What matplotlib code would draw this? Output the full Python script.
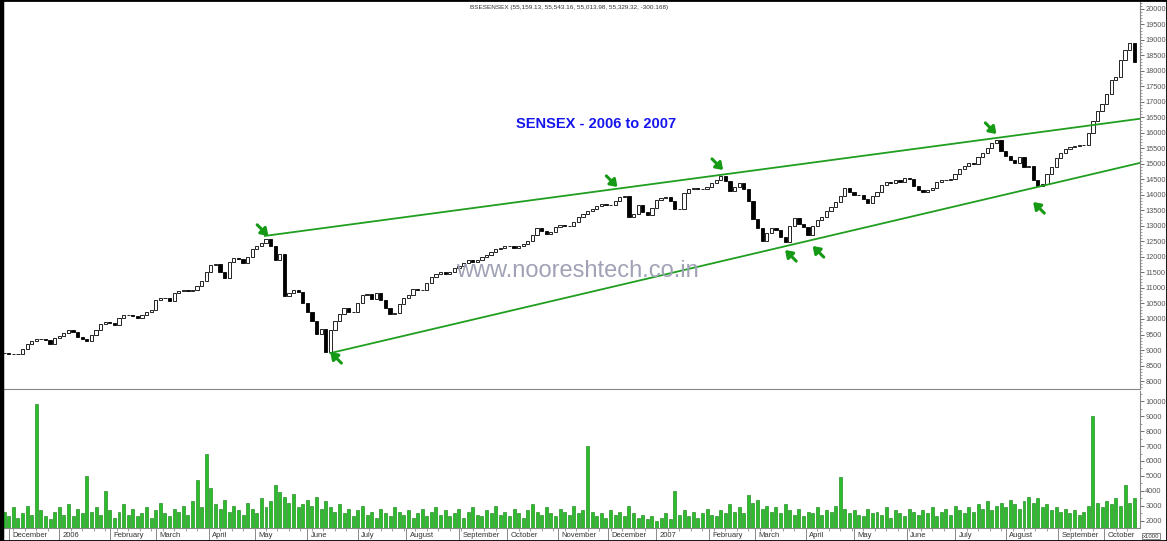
import numpy as np
import pandas as pd
import matplotlib
matplotlib.use('Agg')
import matplotlib.pyplot as plt
from matplotlib.patches import Rectangle
from matplotlib.ticker import MultipleLocator
import matplotlib.transforms as mtransforms

plt.rcParams['font.family'] = ['Liberation Sans', 'DejaVu Sans']

# one candle = two trading days, 29 Nov 2005 .. 18 Oct 2007
closes = [
    8900, 8880, 8870, 8880, 9040, 9200, 9290, 9340, 9370, 9330,
    9200, 9400, 9460, 9540, 9640, 9580, 9430, 9350, 9280, 9490,
    9650, 9850, 9890, 9880, 9820, 10040, 10120, 10130, 10100, 10040,
    10140, 10230, 10300, 10600, 10670, 10690, 10580, 10840, 10890, 10930,
    10900, 10920, 11070, 11240, 11500, 11740, 11780, 11500, 11330, 11850,
    11980, 11950, 11820, 12000, 12260, 12360, 12460, 12570, 12350, 11900,
    12100, 10750, 10850, 10940, 10860, 10520, 10220, 9950, 9530, 9680,
    8935, 9630, 9950, 10150, 10340, 10220, 10230, 10530, 10770, 10800,
    10660, 10840, 10600, 10360, 10170, 10200, 10480, 10690, 10770, 10980,
    10920, 10940, 11150, 11340, 11450, 11520, 11450, 11510, 11660, 11720,
    11810, 11890, 11850, 11910, 11990, 12050, 12160, 12250, 12290, 12350,
    12360, 12300, 12360, 12420, 12500, 12720, 12920, 12830, 12750, 12820,
    12960, 13020, 12990, 13010, 13140, 13290, 13400, 13480, 13560, 13660,
    13720, 13670, 13680, 13800, 13950, 13960, 13300, 13400, 13670, 13450,
    13360, 13580, 13850, 13890, 13930, 13820, 13540, 13550, 14050, 14180,
    14230, 14190, 14190, 14250, 14380, 14490, 14600, 14450, 14130, 14260,
    14390, 14200, 13820, 13220, 12940, 12530, 12760, 12930, 12860, 12650,
    12480, 13000, 13260, 13080, 12960, 12700, 13000, 13190, 13290, 13470,
    13610, 13760, 13970, 14220, 14100, 14010, 14000, 13880, 13750, 13960,
    14100, 14310, 14410, 14400, 14470, 14420, 14540, 14520, 14300, 14160,
    14100, 14150, 14240, 14430, 14480, 14480, 14530, 14680, 14840, 14940,
    15020, 15000, 15240, 15340, 15500, 15670, 15770, 15420, 15250, 15130,
    15030, 15230, 14900, 14950, 14470, 14300, 14370, 14680, 14890, 15200,
    15360, 15490, 15540, 15580, 15610, 15600, 16000, 16400, 16700, 16950,
    17250, 17700, 17800, 18350, 18680, 18900, 18300,
]

volumes = [
    2600, 2300, 2900, 2200, 2500, 3000, 2400, 9800, 2700, 2300,
    2100, 2600, 2900, 2400, 3100, 2300, 2800, 2500, 5000, 2600,
    2900, 2400, 4000, 2700, 2200, 2600, 3100, 2400, 2800, 2300,
    2500, 2900, 2200, 2700, 3200, 2500, 2300, 2800, 2600, 3000,
    2400, 3300, 4700, 2900, 6500, 4200, 3100, 2800, 3400, 2600,
    3000, 2700, 2400, 3200, 2800, 2500, 3500, 2900, 3300, 4400,
    3900, 3600, 3200, 3800, 2900, 3100, 3400, 3000, 3600, 2800,
    3300, 2900, 2600, 3100, 2500, 2800, 2300, 2700, 3000, 2400,
    2600, 2200, 2800, 2500, 2300, 2900, 2600, 2400, 2700, 2200,
    2500, 2800, 2300, 2600, 2900, 2400, 2700, 2300, 2500, 2800,
    2200, 2600, 2900, 2400, 2300, 2700, 2500, 3000, 2400, 2600,
    2300, 2800, 2500, 2200, 2700, 3100, 2600, 2400, 2900, 2500,
    2300, 2800, 2600, 2400, 3000, 2500, 2700, 7000, 2600, 2300,
    2500, 2200, 2700, 2400, 2600, 2300, 3000, 2500, 2200, 2400,
    2100, 2300, 2000, 2200, 2500, 2100, 4000, 2400, 2700, 2300,
    2600, 2200, 2500, 2800, 2400, 2300, 2700, 2500, 3100, 2600,
    2900, 2500, 3700, 3200, 3400, 2800, 3000, 2600, 2900, 2500,
    3100, 2700, 2400, 2800, 2300, 2600, 2500, 2900, 2400, 2700,
    2600, 3000, 4900, 2800, 2500, 2700, 2400, 2300, 2800, 2500,
    2600, 2400, 2900, 2200, 2700, 2500, 2300, 2800, 2600, 2400,
    2700, 2500, 2900, 2300, 2600, 2800, 2400, 3000, 2700, 2500,
    2900, 2600, 3100, 2800, 3300, 2700, 3000, 3200, 2900, 3400,
    3100, 2800, 3300, 3600, 3200, 3500, 2900, 3100, 2700, 2900,
    2600, 2800, 2500, 2700, 2400, 2600, 3000, 9000, 3200, 2900,
    3300, 3100, 3500, 3000, 4400, 3200, 3500,
]

month_names = ['December', '2006', 'February', 'March', 'April', 'May', 'June',
               'July', 'August', 'September', 'October', 'November', 'December',
               '2007', 'February', 'March', 'April', 'May', 'June', 'July',
               'August', 'September', 'October']

# trend lines: (trading day index, price)
upper_line = [(113.5, 12680), (494.5, 16460)]
lower_line = [(142.0, 8900), (494.5, 15035)]

# green arrows: tip day, tip price, pointing down-right (1) or up-left (-1)
arrow_days = [115, 142, 267, 313, 340, 352, 432, 448]
arrow_prices = [12680, 8935, 14258, 14806, 12226, 12355, 15968, 13774]
arrow_dirs = [1, -1, 1, 1, -1, -1, 1, -1]

days = pd.bdate_range('2005-11-29', '2007-10-18')
day_idx = np.arange(len(days))
x = day_idx[::2][:len(closes)]
opens = [closes[0]] + closes[:-1]

W, H = 1167, 541
fig = plt.figure(figsize=(W / 100, H / 100), dpi=100)
ax = fig.add_axes([3 / W, 1 - 389 / H, 1137 / W, 389 / H])
axv = fig.add_axes([3 / W, 13 / H, 1137 / W, 137 / H], sharex=ax)

fig.text(577 / W, 1 - 271 / H, 'www.nooreshtech.co.in', ha='center', va='center',
         fontsize=17, color='#a0a2b6', zorder=0)
ax.patch.set_alpha(0)

# candles
for xi, o, c in zip(x, opens, closes):
    lo, hi = min(o, c), max(o, c)
    col = 'white' if c >= o else 'black'
    ax.add_patch(Rectangle((xi - 0.7, lo), 1.4, max(hi - lo, 15),
                           facecolor=col, edgecolor='black', lw=0.6))

green = '#1f9e1f'
ax.plot(*zip(*upper_line), color=green, lw=1.3)
ax.plot(*zip(*lower_line), color=green, lw=1.3)
for d, p, s in zip(arrow_days, arrow_prices, arrow_dirs):
    ax.annotate('', xy=(d, p), xytext=(-8 * s, 8 * s), textcoords='offset points',
                arrowprops=dict(arrowstyle='-|>,head_length=0.4,head_width=0.28',
                                lw=2.2, color='#169a16', shrinkA=0, shrinkB=0))

ax.set_xlim(-0.5, 494.5)
ax.set_ylim(7742, 20290)
ax.yaxis.tick_right()
ax.set_yticks(np.arange(8000, 20001, 500))
ax.yaxis.set_minor_locator(MultipleLocator(100))
ax.tick_params(axis='y', which='major', length=3, width=0.6, labelsize=5.3,
               colors='#555555', pad=0.8)
ax.tick_params(axis='y', which='minor', length=1.5, width=0.5, colors='#777777')
ax.tick_params(axis='x', which='both', bottom=False, labelbottom=False)
for s in ['top', 'left']:
    ax.spines[s].set_visible(False)
for s in ['right', 'bottom']:
    ax.spines[s].set_color('#888888')
    ax.spines[s].set_linewidth(0.8)

# volume
axv.bar(x, volumes, width=1.3, color='#2cbc2c', edgecolor='#0c7a0c', lw=0.4)
axv.set_ylim(1533, 10667)
axv.yaxis.tick_right()
axv.set_yticks(np.arange(2000, 10001, 1000))
axv.yaxis.set_minor_locator(MultipleLocator(500))
axv.tick_params(axis='y', which='major', length=3, width=0.6, labelsize=5.3,
                colors='#555555', pad=0.8)
axv.tick_params(axis='y', which='minor', length=1.5, width=0.5, colors='#777777')
for s in ['top', 'left']:
    axv.spines[s].set_visible(False)
for s in ['right', 'bottom']:
    axv.spines[s].set_color('#888888')
    axv.spines[s].set_linewidth(0.8)

# month strip
month_start = [day_idx[i] for i in range(len(days))
               if i == 0 or days[i].month != days[i - 1].month][1:]
week_start = [day_idx[i] for i in range(len(days)) if days[i].weekday() == 0]
axv.set_xticks(month_start)
axv.set_xticklabels([])
axv.set_xticks(week_start, minor=True)
axv.tick_params(axis='x', which='major', length=9.5, width=0.6, colors='#777777',
                direction='out')
axv.tick_params(axis='x', which='minor', length=2.5, width=0.5, colors='#777777',
                direction='out')
trans = mtransforms.blended_transform_factory(axv.transData, axv.transAxes)
for m, name in zip(month_start, month_names):
    axv.text(m + 1.5, -0.055, name, transform=trans, ha='left', va='center',
             fontsize=5.5, color='#333333')
fig.text(1143 / W, 1 - 536 / H, 'x1000', fontsize=4.3, color='#333333', va='center',
         bbox=dict(boxstyle='square,pad=0.15', fc='white', ec='#555555', lw=0.5))

# texts
fig.text(569 / W, 1 - 8 / H,
         'BSESENSEX (55,159.13, 55,543.16, 55,013.98, 55,329.32, -300.168)',
         ha='center', va='center', fontsize=4.6, color='#333333')
fig.text(596 / W, 1 - 124 / H, 'SENSEX - 2006 to 2007', ha='center', va='center',
         fontsize=10.5, fontweight='bold', color='#1515ee')

# frame round the picture
fig.patches.append(Rectangle((0, 0), 1, 1, transform=fig.transFigure, fill=False,
                             edgecolor='black', lw=2))
fig.add_artist(plt.Line2D([1.5 / W, 1.5 / W], [0, 1], color='black', lw=2.5,
                          transform=fig.transFigure))

fig.savefig('out.png', dpi=100)
